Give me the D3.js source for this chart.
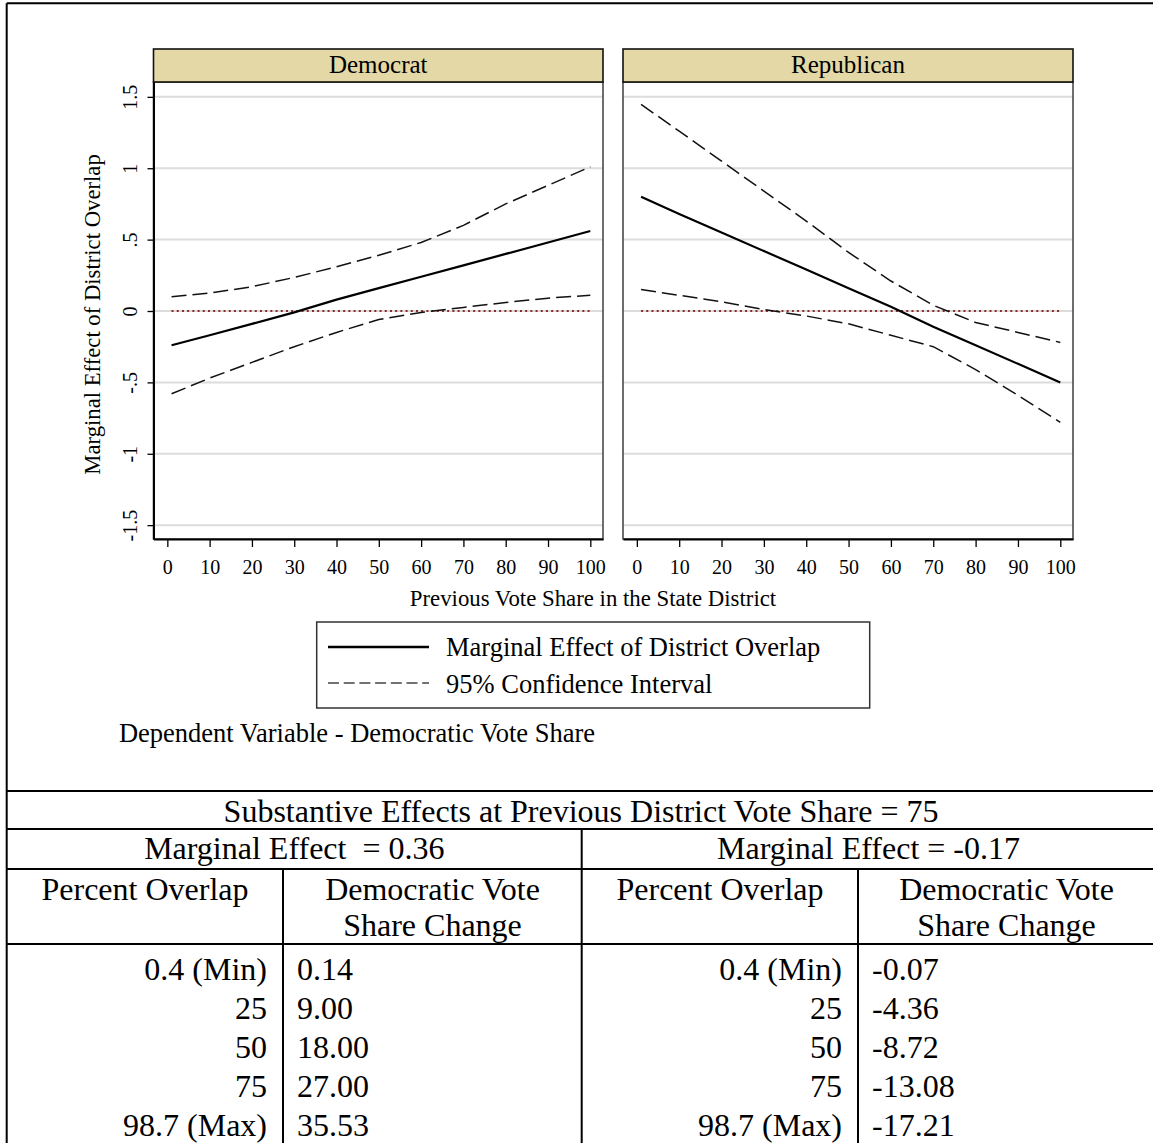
<!DOCTYPE html>
<html>
<head>
<meta charset="utf-8">
<script src="https://cdn.jsdelivr.net/npm/d3@7"></script>
<style>
  body { margin: 0; background: #fff; }
  text { font-family: "Liberation Serif", "Times New Roman", serif; fill: #000; }
</style>
</head>
<body>
<div id="chart"></div>
<script>
// values (x = previous vote share)
const voteShare = [1, 10, 20, 30, 40, 50, 60, 70, 80, 90, 100];
const demEffect = [-0.24, -0.17, -0.09, -0.01, 0.08, 0.16, 0.24, 0.32, 0.40, 0.48, 0.56];
const demUpper = [0.10, 0.125, 0.17, 0.235, 0.31, 0.39, 0.48, 0.60, 0.75, 0.88, 1.01];
const demLower = [-0.58, -0.47, -0.36, -0.25, -0.15, -0.06, -0.01, 0.025, 0.06, 0.09, 0.11];
const repEffect = [0.80, 0.68, 0.55, 0.42, 0.29, 0.16, 0.03, -0.11, -0.24, -0.37, -0.50];
const repUpper = [1.447, 1.26, 1.05, 0.84, 0.63, 0.41, 0.21, 0.04, -0.08, -0.15, -0.22];
const repLower = [0.15, 0.11, 0.065, 0.01, -0.035, -0.09, -0.17, -0.25, -0.41, -0.59, -0.78];

const panelNames = ["Democrat", "Republican"];
const xTicks = [0, 10, 20, 30, 40, 50, 60, 70, 80, 90, 100];
const yTicks = [-1.5, -1, -0.5, 0, 0.5, 1, 1.5];
const yTickLabels = ["-1.5", "-1", "-.5", "0", ".5", "1", "1.5"];

const legendLabels = ["Marginal Effect of District Overlap", "95% Confidence Interval"];
const tableTitle = "Substantive Effects at Previous District Vote Share = 75";
const marginalLabels = ["Marginal Effect  = 0.36", "Marginal Effect = -0.17"];
const overlapLabels = ["0.4 (Min)", "25", "50", "75", "98.7 (Max)"];
const demChange = ["0.14", "9.00", "18.00", "27.00", "35.53"];
const repChange = ["-0.07", "-4.36", "-8.72", "-13.08", "-17.21"];

const W = 1153, H = 1143;
const font = '"Liberation Serif", "Times New Roman", serif';

const svg = d3.select("#chart").append("svg")
  .attr("width", W).attr("height", H);

// outer frame (top and left edges visible)
svg.append("line").attr("x1", 6.7).attr("x2", W + 2).attr("y1", 3.3).attr("y2", 3.3)
  .attr("stroke", "#000").attr("stroke-width", 2);
svg.append("line").attr("x1", 6.7).attr("x2", 6.7).attr("y1", 3.3).attr("y2", H + 2)
  .attr("stroke", "#000").attr("stroke-width", 2);

const plotTop = 82, plotBottom = 539, headerTop = 49;
const panels = [
  { name: panelNames[0], x0: 153.5, x1: 603, effect: demEffect, upper: demUpper, lower: demLower },
  { name: panelNames[1], x0: 623, x1: 1073, effect: repEffect, upper: repUpper, lower: repLower }
];

const y = d3.scaleLinear().domain([-1.597, 1.604]).range([plotBottom, plotTop]);

panels.forEach((p, pi) => {
  const x = d3.scaleLinear().domain([-3.27, 103.0]).range([p.x0, p.x1]);
  const g = svg.append("g");

  // grid lines
  g.selectAll(".grid").data(yTicks).enter().append("line")
    .attr("x1", p.x0).attr("x2", p.x1)
    .attr("y1", d => y(d)).attr("y2", d => y(d))
    .attr("stroke", "#dcdcdc").attr("stroke-width", 2);

  // zero reference line
  g.append("line")
    .attr("x1", x(voteShare[0])).attr("x2", x(voteShare[voteShare.length - 1]))
    .attr("y1", y(0)).attr("y2", y(0))
    .attr("stroke", "#8b2a2a").attr("stroke-width", 2)
    .attr("stroke-dasharray", "2,3.2");

  // plot border
  g.append("rect")
    .attr("x", p.x0).attr("y", plotTop)
    .attr("width", p.x1 - p.x0).attr("height", plotBottom - plotTop)
    .attr("fill", "none").attr("stroke", "#4a4a4a").attr("stroke-width", 1.6);

  // header strip
  g.append("rect")
    .attr("x", p.x0).attr("y", headerTop)
    .attr("width", p.x1 - p.x0).attr("height", plotTop - headerTop)
    .attr("fill", "#e3d8a6").attr("stroke", "#111").attr("stroke-width", 1.6);
  g.append("text")
    .attr("x", (p.x0 + p.x1) / 2).attr("y", 73.3)
    .attr("text-anchor", "middle").attr("font-size", "25px")
    .text(p.name);

  const line = d3.line().x((d, i) => x(voteShare[i])).y(d => y(d));
  g.append("path").datum(p.upper).attr("d", line)
    .attr("fill", "none").attr("stroke", "#111").attr("stroke-width", 1.5)
    .attr("stroke-dasharray", "15,6");
  g.append("path").datum(p.lower).attr("d", line)
    .attr("fill", "none").attr("stroke", "#111").attr("stroke-width", 1.5)
    .attr("stroke-dasharray", "15,6");
  g.append("path").datum(p.effect).attr("d", line)
    .attr("fill", "none").attr("stroke", "#000").attr("stroke-width", 2.2);

  // x axis
  const xAxis = g.append("g")
    .attr("transform", `translate(0,${plotBottom})`)
    .call(d3.axisBottom(x).tickValues(xTicks).tickSize(8).tickSizeOuter(0).tickPadding(13));
  xAxis.select(".domain").attr("stroke", "#000").attr("stroke-width", 2);
  xAxis.selectAll(".tick line").attr("stroke", "#000").attr("stroke-width", 1.3);
  xAxis.selectAll("text").attr("font-size", "20px").style("font-family", font).attr("fill", "#000");

  // y axis on the first panel only
  if (pi === 0) {
    const yAxis = g.append("g")
      .attr("transform", `translate(${p.x0},0)`)
      .call(d3.axisLeft(y).tickValues(yTicks).tickSize(6).tickSizeOuter(0)
        .tickFormat((d, i) => yTickLabels[i]));
    yAxis.select(".domain").attr("stroke", "#000").attr("stroke-width", 2);
    yAxis.selectAll(".tick line").attr("stroke", "#000").attr("stroke-width", 1.3);
    yAxis.selectAll("text")
      .attr("x", null).attr("dy", null)
      .attr("text-anchor", "middle")
      .attr("transform", "translate(-16.5,0) rotate(-90)")
      .attr("font-size", "20px").style("font-family", font).attr("fill", "#000");
  }
});

// axis titles
svg.append("text")
  .attr("transform", "translate(100,314.5) rotate(-90)")
  .attr("text-anchor", "middle").attr("font-size", "22.7px")
  .text("Marginal Effect of District Overlap");
svg.append("text")
  .attr("x", 593).attr("y", 606)
  .attr("text-anchor", "middle").attr("font-size", "22.8px")
  .text("Previous Vote Share in the State District");

// legend
const legend = svg.append("g");
legend.append("rect")
  .attr("x", 316.7).attr("y", 622).attr("width", 553).attr("height", 86)
  .attr("fill", "#fff").attr("stroke", "#333").attr("stroke-width", 1.5);
legend.append("line").attr("x1", 328).attr("x2", 429).attr("y1", 647).attr("y2", 647)
  .attr("stroke", "#000").attr("stroke-width", 2.4);
legend.append("line").attr("x1", 328).attr("x2", 429).attr("y1", 683).attr("y2", 683)
  .attr("stroke", "#444").attr("stroke-width", 1.3).attr("stroke-dasharray", "11,4.7");
legend.selectAll(".lab").data(legendLabels).enter().append("text")
  .attr("x", 446).attr("y", (d, i) => 655.7 + i * 37)
  .attr("font-size", "26.5px").text(d => d);

svg.append("text")
  .attr("x", 595).attr("y", 741.7).attr("text-anchor", "end")
  .attr("font-size", "26.5px")
  .text("Dependent Variable - Democratic Vote Share");

// table of substantive effects
const table = svg.append("g");
const hLines = [791, 829, 869, 944];
table.selectAll(".hl").data(hLines).enter().append("line")
  .attr("x1", 6.7).attr("x2", W + 2)
  .attr("y1", d => d).attr("y2", d => d)
  .attr("stroke", "#000").attr("stroke-width", 2);
const vLines = [{ x: 581.7, y: 829 }, { x: 283, y: 869 }, { x: 858, y: 869 }];
table.selectAll(".vl").data(vLines).enter().append("line")
  .attr("x1", d => d.x).attr("x2", d => d.x)
  .attr("y1", d => d.y).attr("y2", H + 2)
  .attr("stroke", "#000").attr("stroke-width", 2);

const tfs = "32px";
table.append("text").attr("x", 581).attr("y", 821.7)
  .attr("text-anchor", "middle").attr("font-size", tfs).text(tableTitle);
table.selectAll(".me").data(marginalLabels).enter().append("text")
  .attr("x", (d, i) => i === 0 ? 294.3 : 868.5).attr("y", 859)
  .attr("text-anchor", "middle").attr("font-size", tfs)
  .style("white-space", "pre").text(d => d);

const halves = [
  { c1: 145, c2: 432.5, right1: 267, left2: 297, values: demChange },
  { c1: 720, c2: 1006.5, right1: 842, left2: 872, values: repChange }
];
halves.forEach(h => {
  table.append("text").attr("x", h.c1).attr("y", 900)
    .attr("text-anchor", "middle").attr("font-size", tfs).text("Percent Overlap");
  table.append("text").attr("x", h.c2).attr("y", 900)
    .attr("text-anchor", "middle").attr("font-size", tfs).text("Democratic Vote");
  table.append("text").attr("x", h.c2).attr("y", 936)
    .attr("text-anchor", "middle").attr("font-size", tfs).text("Share Change");
  table.selectAll(null).data(overlapLabels).enter().append("text")
    .attr("x", h.right1).attr("y", (d, i) => 980 + i * 39.1)
    .attr("text-anchor", "end").attr("font-size", tfs).text(d => d);
  table.selectAll(null).data(h.values).enter().append("text")
    .attr("x", h.left2).attr("y", (d, i) => 980 + i * 39.1)
    .attr("font-size", tfs).text(d => d);
});
</script>
</body>
</html>
